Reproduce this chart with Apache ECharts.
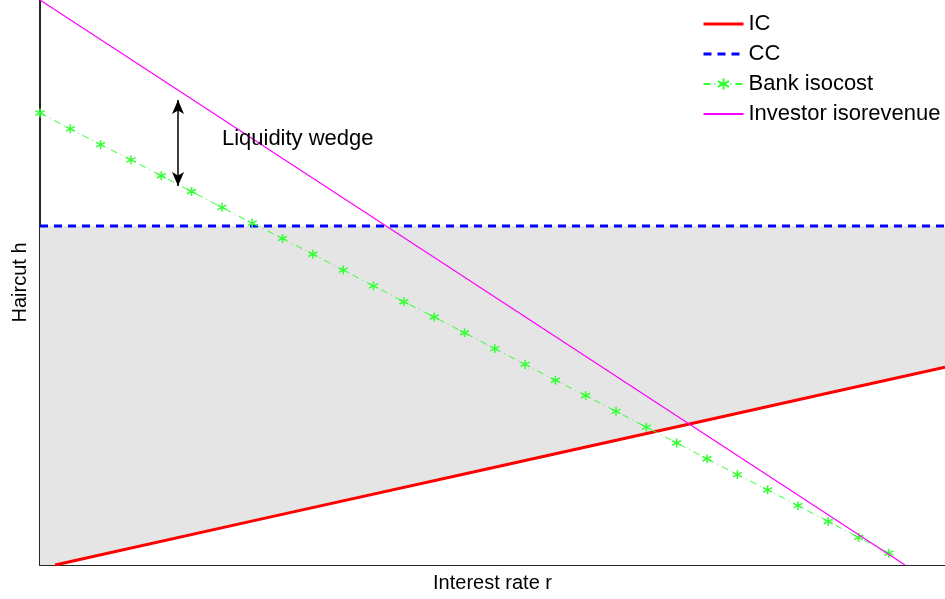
<!DOCTYPE html>
<html>
<head>
<meta charset="utf-8">
<script src="https://cdn.jsdelivr.net/npm/echarts@6/dist/echarts.min.js"></script>
<style>html,body{margin:0;padding:0;background:#fff;}#c{width:945px;height:599px;}</style>
</head>
<body>
<div id="c"></div>
<script>
var seriesNames = ['IC', 'CC', 'Bank isocost', 'Investor isorevenue'];
var icX = [0.0166, 0.26, 0.5, 0.75, 0.87, 1.0];
var icY = [0.0, 0.087, 0.172, 0.261, 0.304, 0.350];
var ccX = [0, 1];
var ccY = [0.6, 0.6];
var bankX = [0, 0.0335, 0.067, 0.1005, 0.134, 0.1675, 0.201, 0.2345, 0.268, 0.3015, 0.335, 0.3685, 0.402, 0.4355, 0.469, 0.5025, 0.536, 0.5695, 0.603, 0.6365, 0.67, 0.7035, 0.737, 0.7705, 0.804, 0.8375, 0.871, 0.9045, 0.938];
var bankY = [0.8, 0.772, 0.744, 0.717, 0.689, 0.661, 0.633, 0.605, 0.578, 0.550, 0.522, 0.494, 0.466, 0.439, 0.411, 0.383, 0.355, 0.327, 0.300, 0.272, 0.244, 0.216, 0.188, 0.160, 0.133, 0.105, 0.077, 0.049, 0.021];
var invX = [0, 0.5, 0.9558];
var invY = [1.0, 0.477, 0.0];
var wedgeX = 0.1525;
var wedgeTop = 0.823;
var wedgeBottom = 0.671;
var wedgeLabel = 'Liquidity wedge';
var wedgeLabelPos = [0.201, 0.754];
var xName = 'Interest rate r';
var yName = 'Haircut h';

function pairs(xs, ys) { return xs.map(function (x, i) { return [x, ys[i]]; }); }

var font = '"Liberation Sans", Arial, Helvetica, sans-serif';
var chart = echarts.init(document.getElementById('c'));
chart.setOption({
  animation: false,
  backgroundColor: '#fff',
  textStyle: { fontFamily: font },
  grid: { left: 40, right: 0, top: 0, bottom: 34, containLabel: false },
  legend: {
    data: [
      { name: seriesNames[0], itemStyle: { opacity: 0 }, lineStyle: { width: 3 } },
      { name: seriesNames[1], itemStyle: { opacity: 0 }, lineStyle: { width: 3 } },
      { name: seriesNames[2] },
      { name: seriesNames[3], itemStyle: { opacity: 0 } }
    ],
    orient: 'vertical',
    left: 702,
    top: 13,
    padding: 0,
    itemWidth: 40,
    itemHeight: 14,
    itemGap: 8,
    textStyle: { fontSize: 22, color: '#000', fontFamily: font },
    backgroundColor: 'transparent'
  },
  xAxis: {
    type: 'value', min: 0, max: 1,
    name: xName, nameLocation: 'middle', nameGap: 8,
    nameTextStyle: { fontSize: 20, color: '#000', fontFamily: font, verticalAlign: 'top' },
    axisLine: { show: true, onZero: false, lineStyle: { color: '#262626', width: 2 } },
    axisTick: { show: false }, axisLabel: { show: false }, splitLine: { show: false }
  },
  yAxis: {
    type: 'value', min: 0, max: 1,
    name: yName, nameLocation: 'middle', nameGap: 10,
    nameTextStyle: { fontSize: 20, color: '#000', fontFamily: font },
    axisLine: { show: true, onZero: false, lineStyle: { color: '#262626', width: 2 } },
    axisTick: { show: false }, axisLabel: { show: false }, splitLine: { show: false }
  },
  series: [
    {
      name: 'CC', type: 'line', data: pairs(ccX, ccY), showSymbol: false, symbol: 'none',
      lineStyle: { color: '#0000ff', width: 3, type: [8, 6] },
      itemStyle: { color: '#0000ff' },
      areaStyle: { color: '#e5e5e5', opacity: 1 },
      z: 1
    },
    {
      name: 'IC', type: 'line', data: pairs(icX, icY), showSymbol: false, symbol: 'none',
      lineStyle: { color: '#ff0000', width: 3 },
      itemStyle: { color: '#ff0000' },
      areaStyle: { color: '#ffffff', opacity: 1 },
      z: 2
    },
    {
      name: 'Bank isocost', type: 'line', data: pairs(bankX, bankY),
      symbol: 'path://M0,-6L0,6M-5.2,-3L5.2,3M-5.2,3L5.2,-3', symbolSize: 9, showSymbol: true,
      lineStyle: { color: '#33ff33', width: 1, type: [7, 4, 1, 4] },
      itemStyle: { color: '#33ff33', borderColor: '#33ff33', borderWidth: 1.5 },
      z: 3
    },
    {
      name: 'Investor isorevenue', type: 'line', data: pairs(invX, invY), showSymbol: false, symbol: 'none',
      lineStyle: { color: '#ff00ff', width: 1.2 },
      itemStyle: { color: '#ff00ff' },
      z: 4,
      markLine: {
        silent: true, symbol: ['arrow', 'arrow'], symbolSize: [9, 14],
        lineStyle: { color: '#000', width: 1.5, type: 'solid' },
        itemStyle: { color: '#000' },
        label: { show: false },
        data: [[{ coord: [wedgeX, wedgeTop] }, { coord: [wedgeX, wedgeBottom] }]]
      },
      markPoint: {
        silent: true, symbol: 'circle', symbolSize: 0,
        label: { show: true, position: 'right', distance: 0, formatter: wedgeLabel, fontSize: 22, color: '#000', fontFamily: font },
        data: [{ coord: wedgeLabelPos }]
      }
    }
  ]
});
</script>
</body>
</html>
